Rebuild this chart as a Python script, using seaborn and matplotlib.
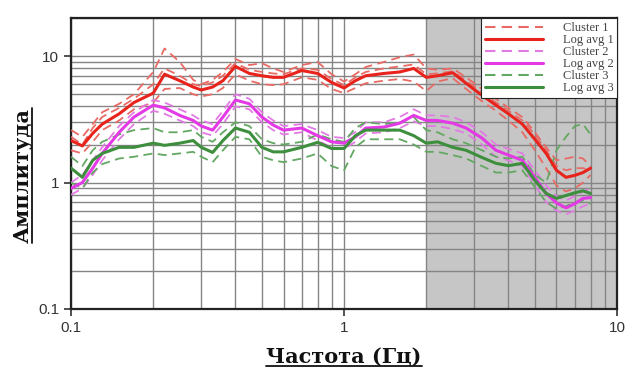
import numpy as np
import pandas as pd
import seaborn as sns
import matplotlib.pyplot as plt
from matplotlib.lines import Line2D
from matplotlib.ticker import FixedLocator, LogLocator, NullFormatter, FuncFormatter

# частоты (Гц)
freq = [0.1, 0.11, 0.12, 0.13, 0.15, 0.17, 0.2, 0.22, 0.25, 0.28, 0.3, 0.33, 0.36, 0.4,
        0.45, 0.5, 0.55, 0.6, 0.7, 0.8, 0.9, 1.0, 1.1, 1.2, 1.4, 1.6, 1.8, 2.0, 2.2, 2.5,
        2.8, 3.2, 3.6, 4.0, 4.5, 5.0, 5.5, 6.0, 6.5, 7.0, 7.5, 8.0]

# кластер 1 (красный)
avg1 = [2.15, 1.95, 2.45, 2.9, 3.5, 4.3, 5.1, 7.2, 6.4, 5.7, 5.4, 5.7, 6.4, 8.3,
        7.3, 7.0, 6.8, 6.8, 7.7, 7.3, 6.2, 5.6, 6.4, 7.0, 7.3, 7.5, 8.0, 6.8, 7.0, 7.4,
        6.1, 4.9, 4.1, 3.5, 2.9, 2.2, 1.7, 1.25, 1.1, 1.14, 1.2, 1.3]
cl1_a = [2.6, 2.3, 2.9, 3.6, 4.2, 5.0, 7.5, 11.5, 9.0, 6.5, 6.0, 6.5, 7.5, 9.5,
         8.5, 8.8, 8.0, 7.5, 8.5, 9.0, 7.2, 6.3, 7.2, 8.2, 9.0, 9.8, 10.3, 8.0, 7.8, 8.0,
         6.8, 5.5, 4.6, 3.9, 3.3, 2.5, 1.9, 1.5, 1.55, 1.6, 1.55, 1.35]
cl1_b = [1.8, 1.7, 2.1, 2.6, 3.1, 3.8, 4.3, 5.5, 5.6, 5.0, 4.8, 5.0, 5.6, 7.2,
         6.4, 6.0, 5.9, 6.0, 6.8, 6.5, 5.5, 5.1, 5.6, 6.1, 6.4, 6.6, 6.3, 5.3, 6.3, 6.7,
         5.5, 4.4, 3.7, 3.1, 2.5, 1.8, 1.3, 0.95, 0.85, 0.9, 1.0, 1.15]
cl1_c = [2.3, 2.0, 2.7, 3.3, 3.9, 4.6, 6.0, 8.0, 7.0, 6.0, 5.8, 6.2, 7.0, 8.8,
         7.8, 7.5, 7.3, 7.2, 8.0, 7.8, 6.6, 5.9, 6.8, 7.5, 8.0, 8.3, 8.6, 7.2, 7.3, 7.6,
         6.4, 5.2, 4.3, 3.7, 3.1, 2.4, 1.8, 1.35, 1.25, 1.3, 1.3, 1.25]

# кластер 2 (пурпурный)
avg2 = [0.9, 1.0, 1.3, 1.7, 2.5, 3.3, 4.1, 3.9, 3.4, 3.1, 2.8, 2.6, 3.3, 4.5,
        4.2, 3.3, 2.85, 2.6, 2.7, 2.35, 2.1, 2.05, 2.3, 2.7, 2.75, 2.95, 3.4, 3.1, 3.1, 2.95,
        2.7, 2.25, 1.8, 1.65, 1.5, 1.1, 0.82, 0.69, 0.63, 0.68, 0.75, 0.76]
cl2_a = [1.0, 1.15, 1.5, 1.9, 2.8, 3.6, 4.5, 4.3, 3.8, 3.4, 3.1, 2.9, 3.7, 5.0,
         4.6, 3.6, 3.1, 2.8, 2.9, 2.6, 2.3, 2.25, 2.5, 3.0, 3.0, 3.3, 3.8, 3.4, 3.4, 3.3,
         3.0, 2.5, 2.0, 1.85, 1.7, 1.25, 0.95, 0.78, 0.72, 0.78, 0.85, 0.9]
cl2_b = [0.8, 0.9, 1.15, 1.5, 2.2, 2.9, 3.7, 3.5, 3.1, 2.8, 2.5, 2.35, 2.9, 4.0,
         3.8, 3.0, 2.6, 2.4, 2.5, 2.15, 1.9, 1.85, 2.1, 2.45, 2.5, 2.7, 3.05, 2.8, 2.8, 2.65,
         2.45, 2.0, 1.6, 1.5, 1.35, 0.95, 0.7, 0.6, 0.56, 0.6, 0.65, 0.68]

# кластер 3 (зелёный)
avg3 = [1.3, 1.1, 1.5, 1.7, 1.9, 1.9, 2.05, 1.97, 2.05, 2.15, 1.9, 1.73, 2.15, 2.7,
        2.5, 1.9, 1.75, 1.75, 1.9, 2.08, 1.86, 1.86, 2.35, 2.6, 2.6, 2.6, 2.35, 2.05, 2.1, 1.9,
        1.8, 1.58, 1.42, 1.36, 1.42, 1.04, 0.82, 0.75, 0.79, 0.83, 0.86, 0.82]
cl3_a = [1.6, 1.35, 1.8, 2.1, 2.4, 2.6, 2.7, 2.5, 2.5, 2.6, 2.3, 2.1, 2.5, 3.0,
         2.8, 2.2, 2.05, 2.0, 2.1, 2.4, 2.2, 2.1, 2.7, 3.0, 2.9, 3.0, 3.3, 2.6, 2.5, 2.2,
         2.05, 1.8, 1.6, 1.55, 1.6, 1.15, 1.0, 1.8, 2.3, 2.8, 2.9, 2.4]
cl3_b = [1.0, 0.9, 1.2, 1.4, 1.55, 1.6, 1.7, 1.65, 1.7, 1.75, 1.6, 1.45, 1.8, 2.3,
         2.2, 1.6, 1.5, 1.45, 1.55, 1.7, 1.35, 1.25, 1.9, 2.2, 2.2, 2.2, 2.0, 1.75, 1.75, 1.65,
         1.55, 1.35, 1.2, 1.2, 1.25, 0.92, 0.7, 0.62, 0.65, 0.7, 0.72, 0.68]

c_red, c_red_d = "#e8231c", "#e86a64"
c_mag, c_mag_d = "#e43ae6", "#e27ae4"
c_grn, c_grn_d = "#3d8f3d", "#62a862"

sns.set_style("ticks")
plt.rcParams["font.family"] = ["Liberation Sans", "DejaVu Sans"]

fig = plt.figure(figsize=(6.29, 3.70), dpi=100)
ax = fig.add_axes([0.113, 0.165, 0.868, 0.786])

# серая область выше 2 Гц
ax.axvspan(2, 10, color="#c6c6c6", zorder=0.2, lw=0)

# пунктирные кривые кластеров
for vals, col in [(cl1_a, c_red_d), (cl1_b, c_red_d), (cl1_c, c_red_d),
                  (cl2_a, c_mag_d), (cl2_b, c_mag_d),
                  (cl3_a, c_grn_d), (cl3_b, c_grn_d)]:
    sns.lineplot(x=freq, y=vals, ax=ax, color=col, lw=1.3, zorder=3)
    ax.lines[-1].set_linestyle((0, (5, 3)))

# лог-средние
for vals, col in [(avg1, c_red), (avg2, c_mag), (avg3, c_grn)]:
    sns.lineplot(x=freq, y=vals, ax=ax, color=col, lw=2.2, zorder=4)

ax.set_xscale("log")
ax.set_yscale("log")
ax.set_xlim(0.1, 10)
ax.set_ylim(0.1, 20)

ax.xaxis.set_major_locator(FixedLocator([0.1, 1, 10]))
ax.yaxis.set_major_locator(FixedLocator([0.1, 1, 10]))
ax.xaxis.set_minor_locator(LogLocator(base=10, subs=np.arange(2, 10)))
ax.yaxis.set_minor_locator(LogLocator(base=10, subs=np.arange(2, 10)))
fmt = FuncFormatter(lambda v, p: f"{v:g}")
ax.xaxis.set_major_formatter(fmt)
ax.yaxis.set_major_formatter(fmt)
ax.xaxis.set_minor_formatter(NullFormatter())
ax.yaxis.set_minor_formatter(NullFormatter())

ax.set_axisbelow(True)
ax.grid(True, which="both", color="#858585", lw=1.0)
ax.tick_params(which="major", direction="out", length=5, width=1.2,
               labelsize=11, labelcolor="#333333", color="#333333")
ax.tick_params(which="minor", length=0)
for sp in ax.spines.values():
    sp.set_color("#222222")
    sp.set_linewidth(1.6)

ax.set_xlabel("Частота (Гц)", family="DejaVu Serif", fontweight="bold",
              fontsize=15, color="#111111", labelpad=9)
ax.set_ylabel("Амплитуда", family="DejaVu Serif", fontweight="bold",
              fontsize=15, color="#111111")
ax.yaxis.set_label_coords(-0.07, 0.46)

# легенда
handles = [
    Line2D([], [], color=c_red_d, lw=1.5, ls=(0, (5, 3))),
    Line2D([], [], color=c_red, lw=2.2),
    Line2D([], [], color=c_mag_d, lw=1.5, ls=(0, (5, 3))),
    Line2D([], [], color=c_mag, lw=2.2),
    Line2D([], [], color=c_grn_d, lw=1.5, ls=(0, (5, 3))),
    Line2D([], [], color=c_grn, lw=2.2),
]
labels = ["Cluster 1", "Log avg 1", "Cluster 2", "Log avg 2", "Cluster 3", "Log avg 3"]
leg = ax.legend(handles, labels, loc="upper right", borderaxespad=0, fancybox=False,
                framealpha=1, edgecolor="#222222", labelspacing=0.0, handlelength=4.6,
                handletextpad=1.6, borderpad=0.3,
                prop={"family": "Liberation Serif", "size": 9})
leg.get_frame().set_linewidth(0.8)
leg.set_zorder(6)
for t in leg.get_texts():
    t.set_color("#444444")

# подчёркивание подписей осей
fig.canvas.draw()
r = fig.canvas.get_renderer()
W, H = fig.bbox.width, fig.bbox.height
bx = ax.xaxis.label.get_window_extent(r)
fig.add_artist(Line2D([bx.x0 / W, bx.x1 / W], [(bx.y0 + 1) / H] * 2,
                      transform=fig.transFigure, color="#111111", lw=1.3))
by = ax.yaxis.label.get_window_extent(r)
fig.add_artist(Line2D([(by.x1 - 1) / W] * 2, [by.y0 / H, by.y1 / H],
                      transform=fig.transFigure, color="#111111", lw=1.3))

fig.savefig("out.png", dpi=100)
